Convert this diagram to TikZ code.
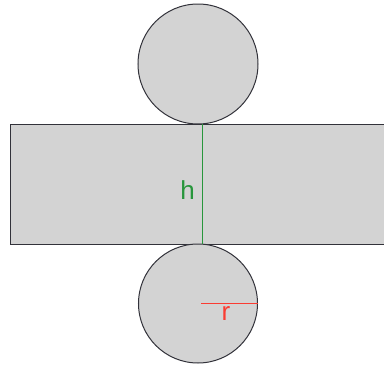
\documentclass[tikz,border=0pt]{standalone}
\usepackage{fontspec}
\setmainfont{Liberation Sans}
\definecolor{shapefill}{RGB}{211,211,211}
\definecolor{edge}{RGB}{50,50,58}
\definecolor{hgreen}{RGB}{40,150,60}
\definecolor{rred}{RGB}{250,60,50}
\begin{document}
\begin{tikzpicture}[x=1pt,y=-1pt,
  face/.style={draw=edge, fill=shapefill, line width=1pt, inner sep=0pt},
  lbl/.style={font=\fontsize{26}{30}\selectfont, inner sep=0pt}]
\clip (0,0) rectangle (384,367);
\node[face, minimum width=380pt, minimum height=120pt, anchor=north west] (rect) at (10,124) {};
\node[face, circle, minimum size=120pt] (top) at (198,64) {};
\node[face, circle, minimum size=119pt] (bot) at (198,303.5) {};
\coordinate (ht) at (202,124);
\coordinate (hb) at (202,244);
\draw[hgreen, line width=1pt] (ht) -- (hb);
\node[lbl, text=hgreen] (h) at (187.5,190) {h};
\coordinate (rc) at (201,303.5);
\draw[rred, line width=1pt] (rc) -- (bot.east);
\node[lbl, text=rred] (r) at (226,314) {r};
\end{tikzpicture}
\end{document}
